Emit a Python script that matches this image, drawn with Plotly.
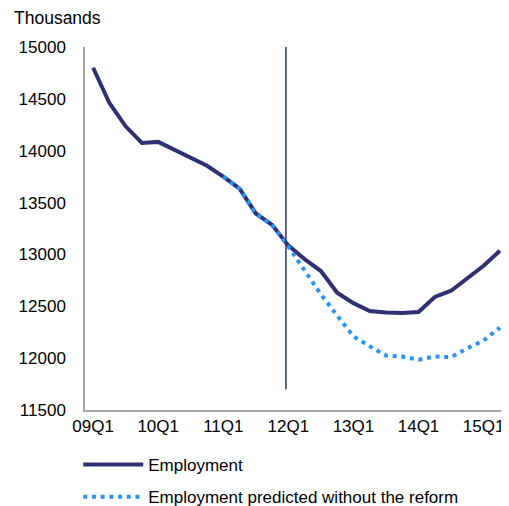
import plotly.graph_objects as go

quarters = [f"{y:02d}Q{q}" for y in range(9, 16) for q in range(1, 5)][:26]
employment = [14800, 14460, 14235, 14075, 14085, 14005, 13935, 13855, 13750,
              13635, 13395, 13285, 13085, 12955, 12840, 12630, 12530, 12455,
              12440, 12435, 12445, 12590, 12650, 12765, 12890, 13035]
predicted = [None] * 8 + [13750, 13635, 13395, 13285, 13075, 12850, 12615, 12410,
                          12210, 12115, 12025, 12015, 11985, 12015, 12010, 12095,
                          12170, 12295]
tick_labels = ["09Q1", "10Q1", "11Q1", "12Q1", "13Q1", "14Q1", "15Q1"]
y_ticks = [11500, 12000, 12500, 13000, 13500, 14000, 14500, 15000]
reform_line_y = [15000, 11700]

navy = "#2E3172"
blue = "#2A94F4"
font = "Liberation Sans, Arial, sans-serif"

fig = go.Figure()
fig.add_trace(go.Scatter(x=quarters, y=employment, mode="lines", name="Employment",
                         line=dict(color=navy, width=4), legendgroup="a"))
fig.add_trace(go.Scatter(x=quarters, y=predicted, mode="lines",
                         name="Employment predicted without the reform",
                         line=dict(color=blue, width=4, dash="4px,4.7px"),
                         legendgroup="b"))

fig.add_shape(type="line", xref="x", yref="y", x0=11.85, x1=11.85,
              y0=reform_line_y[0], y1=reform_line_y[1],
              line=dict(color=navy, width=1.5))

fig.add_annotation(text="Thousands", xref="paper", yref="paper",
                   x=-0.173, y=1.08, xanchor="left", yanchor="middle",
                   showarrow=False, font=dict(size=17.5, color="#000", family=font))

fig.update_layout(
    width=501, height=498,
    margin=dict(l=77, r=1, t=39, b=96, autoexpand=False),
    paper_bgcolor="white", plot_bgcolor="white",
    font=dict(family=font, size=17, color="#000"),
    showlegend=True,
    legend=dict(x=-0.016, y=-0.102, xanchor="left", yanchor="top",
                orientation="v", tracegroupgap=7, itemwidth=60,
                font=dict(size=17, family=font)),
    xaxis=dict(type="category", range=[-0.5, 25.5], tickvals=tick_labels,
               ticktext=tick_labels, showgrid=False, zeroline=False,
               showline=True, linecolor="#A6A6A6", linewidth=1.5, ticks="",
               automargin=False),
    yaxis=dict(range=[11500, 15000], tickvals=y_ticks, tickformat="d",
               showgrid=False, zeroline=False, showline=True,
               linecolor="#A6A6A6", linewidth=1.5, ticks="",
               ticklabelstandoff=14, automargin=False),
)

fig.write_html("out.html")
